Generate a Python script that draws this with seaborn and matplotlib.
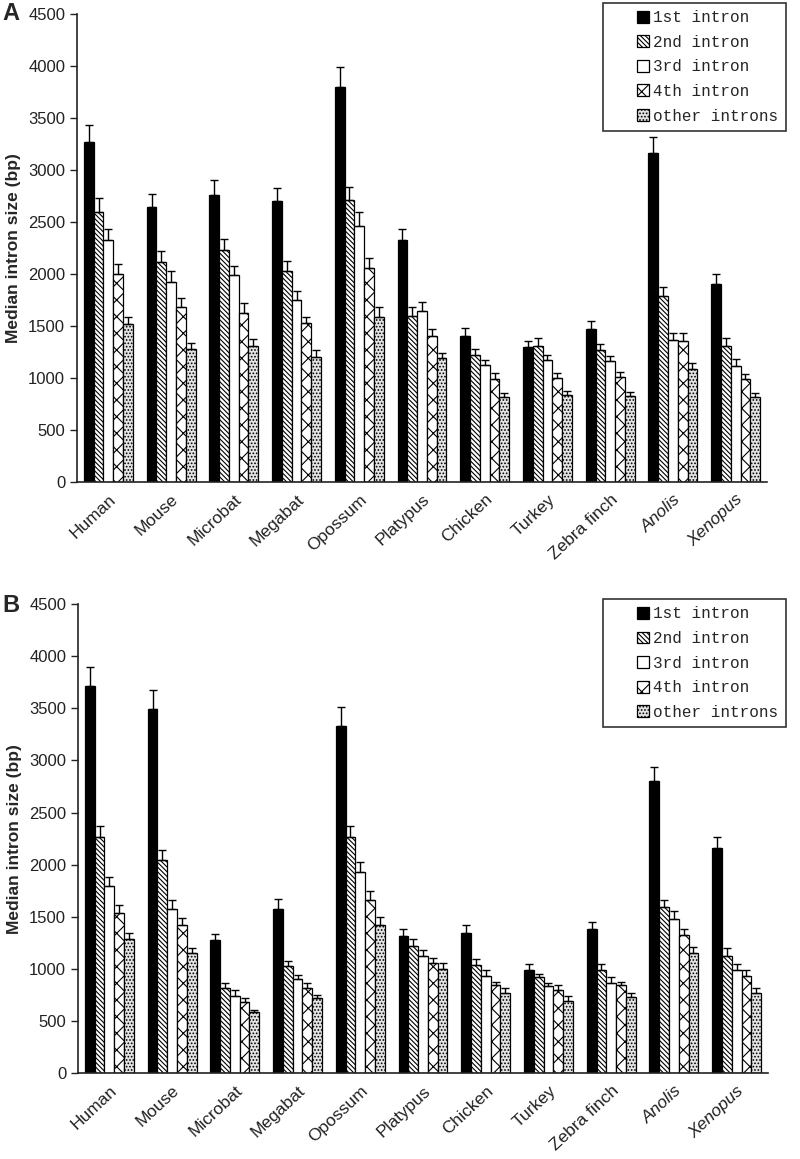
import numpy as np
import pandas as pd
import seaborn as sns
from matplotlib import pyplot as plt
from matplotlib.container import BarContainer
from matplotlib.legend_handler import HandlerPatch, update_from_first_child
from matplotlib.patches import Rectangle

species = ['Human', 'Mouse', 'Microbat', 'Megabat', 'Opossum', 'Platypus',
           'Chicken', 'Turkey', 'Zebra finch', 'Anolis', 'Xenopus']
introns = ['1st intron', '2nd intron', '3rd intron', '4th intron', 'other introns']

# Panel A: median intron size, one list per intron class (order = species)
a_1st = [3270, 2640, 2760, 2700, 3800, 2330, 1405, 1300, 1470, 3160, 1900]
a_2nd = [2600, 2120, 2230, 2030, 2710, 1600, 1220, 1310, 1270, 1790, 1310]
a_3rd = [2330, 1920, 1990, 1750, 2460, 1640, 1125, 1170, 1160, 1370, 1120]
a_4th = [2000, 1680, 1630, 1530, 2060, 1400, 990, 1000, 1010, 1360, 990]
a_other = [1520, 1280, 1310, 1200, 1590, 1190, 820, 840, 830, 1090, 820]
# Panel A error (upper only)
a_1st_err = [160, 130, 145, 130, 195, 105, 75, 60, 75, 160, 100]
a_2nd_err = [130, 100, 110, 95, 130, 85, 60, 75, 60, 85, 75]
a_3rd_err = [105, 110, 90, 90, 135, 90, 50, 50, 50, 60, 65]
a_4th_err = [95, 85, 90, 60, 95, 75, 60, 45, 45, 70, 50]
a_other_err = [70, 55, 65, 65, 90, 50, 35, 40, 35, 50, 35]

# Panel B
b_1st = [3710, 3490, 1275, 1580, 3330, 1320, 1350, 990, 1385, 2805, 2160]
b_2nd = [2270, 2045, 820, 1025, 2270, 1225, 1040, 920, 990, 1590, 1125]
b_3rd = [1800, 1580, 745, 905, 1930, 1125, 930, 835, 870, 1480, 990]
b_4th = [1540, 1420, 680, 820, 1660, 1060, 845, 795, 845, 1325, 930]
b_other = [1290, 1150, 590, 725, 1420, 1005, 775, 690, 735, 1150, 775]
b_1st_err = [185, 185, 60, 90, 180, 65, 70, 60, 65, 135, 105]
b_2nd_err = [105, 95, 50, 55, 105, 60, 60, 35, 55, 75, 75]
b_3rd_err = [85, 85, 50, 40, 100, 60, 60, 35, 50, 75, 60]
b_4th_err = [75, 70, 45, 45, 90, 50, 35, 50, 35, 60, 60]
b_other_err = [60, 50, 15, 25, 75, 55, 40, 50, 40, 60, 40]

fills = ['black', 'white', 'white', 'white', '#e4e4e4']
hatches = [None, '\\' * 7, None, 'xx', '.....']

sns.set_style('white')
plt.rcParams['font.family'] = ['Liberation Sans', 'DejaVu Sans']
plt.rcParams['hatch.linewidth'] = 0.8


def square_handle(legend, orig_handle, xdescent, ydescent, width, height, fontsize):
    # Excel-style legend: small square key pushed to the right of the handle box
    return Rectangle((-xdescent + width - height, -ydescent), height, height)


def draw_panel(ax, vals, errs, legend_anchor):
    rows = []
    for intron, v in zip(introns, vals):
        for sp, x in zip(species, v):
            rows.append({'species': sp, 'intron': intron, 'size': x})
    df = pd.DataFrame(rows)

    sns.barplot(data=df, x='species', y='size', hue='intron', order=species,
                hue_order=introns, palette=fills, saturation=1, width=0.78,
                edgecolor='black', linewidth=0.9, errorbar=None, ax=ax)

    bar_sets = list(ax.containers)
    for bars, hatch, err in zip(bar_sets, hatches, errs):
        xs, hs = [], []
        for p in bars.patches:
            if hatch:
                p.set_hatch(hatch)
            xs.append(p.get_x() + p.get_width() / 2)
            hs.append(p.get_height())
        ax.errorbar(xs, hs, yerr=[np.zeros(len(err)), err], fmt='none',
                    ecolor='black', elinewidth=1.0, capsize=3, capthick=1.0,
                    zorder=3)

    ax.set_xlim(-0.5, 10.5)
    ax.set_ylim(0, 4500)
    ax.set_yticks(range(0, 4501, 500))
    ax.set_xticks(range(len(species)))
    ax.set_xticklabels(species, rotation=43, ha='right', rotation_mode='anchor',
                       fontsize=12.5, color='#222')
    for lab in ax.get_xticklabels():
        if lab.get_text() in ('Anolis', 'Xenopus'):
            lab.set_style('italic')
    ax.tick_params(axis='y', direction='out', length=5, width=1, labelsize=12,
                   colors='#222', left=True)
    ax.tick_params(axis='x', length=0, pad=7)
    ax.set_xlabel('')
    ax.set_ylabel('Median intron size (bp)', fontsize=12.5, fontweight='bold',
                  labelpad=5)
    sns.despine(ax=ax)
    for s in ('left', 'bottom'):
        ax.spines[s].set_linewidth(1.2)
        ax.spines[s].set_color('#222')

    leg = ax.legend(bar_sets, introns, loc='upper left',
                    bbox_to_anchor=legend_anchor, borderaxespad=0,
                    prop={'family': 'Liberation Mono', 'size': 11.5},
                    frameon=True, fancybox=False, framealpha=1,
                    edgecolor='#333', handlelength=2.4, handleheight=0.77,
                    handletextpad=0.3, labelspacing=0.6, borderpad=0.45,
                    handler_map={BarContainer: HandlerPatch(
                        patch_func=square_handle,
                        update_func=update_from_first_child)})
    leg.get_frame().set_linewidth(1.2)


fig = plt.figure(figsize=(8, 11.59), dpi=100)
ax_a = fig.add_axes([0.09625, 0.5841, 0.8625, 0.4038])
ax_b = fig.add_axes([0.0975, 0.0739, 0.8625, 0.405])

draw_panel(ax_a, [a_1st, a_2nd, a_3rd, a_4th, a_other],
           [a_1st_err, a_2nd_err, a_3rd_err, a_4th_err, a_other_err],
           (0.7623, 1.0235))
draw_panel(ax_b, [b_1st, b_2nd, b_3rd, b_4th, b_other],
           [b_1st_err, b_2nd_err, b_3rd_err, b_4th_err, b_other_err],
           (0.7609, 1.010))

fig.text(0.003, 1 - 14 / 1159, 'A', fontsize=17, fontweight='bold', va='center')
fig.text(0.003, 1 - 605 / 1159, 'B', fontsize=17, fontweight='bold', va='center')

plt.savefig('out.png', dpi=100)
